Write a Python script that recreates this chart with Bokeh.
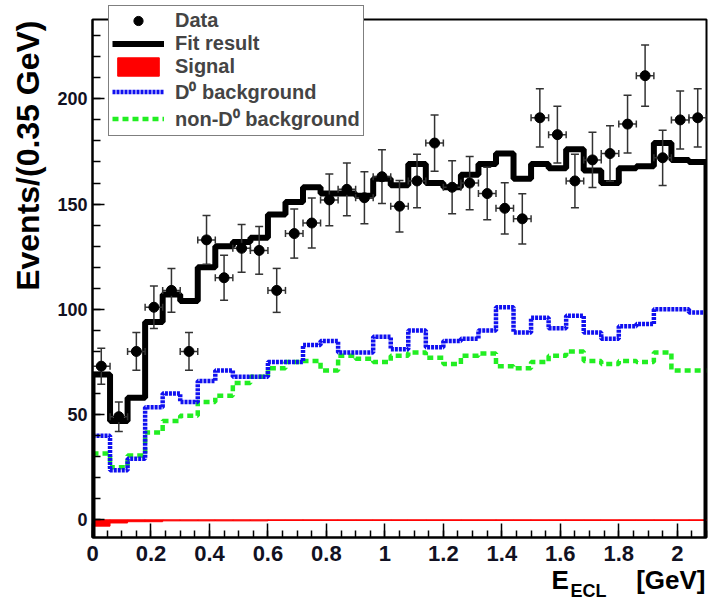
import numpy as np
from bokeh.plotting import figure
from bokeh.layouts import column
from bokeh.models import (ColumnDataSource, Whisker, TeeHead, Legend, LegendItem,
                          Label, FixedTicker, Range1d, GridBox)
from bokeh.embed import file_html
from bokeh.resources import INLINE

# ---------------- data ----------------
bin_half = 0.03
bin_centers = [0.03, 0.09, 0.15, 0.21, 0.27, 0.33, 0.39, 0.45, 0.51, 0.57,
               0.63, 0.69, 0.75, 0.81, 0.87, 0.93, 0.99, 1.05, 1.11, 1.17,
               1.23, 1.29, 1.35, 1.41, 1.47, 1.53, 1.59, 1.65, 1.71, 1.77,
               1.83, 1.89, 1.95, 2.01, 2.07]
data_counts = [73, 49, 80, 101, 109, 80, 133, 115, 129, 128,
               109, 136, 141, 152, 157, 153, 163, 149, 161, 179,
               158, 160, 155, 148, 143, 191, 183, 161, 171, 174,
               188, 211, 172, 190, 191]
fit_result = [69, 47, 58, 94, 107, 104, 120, 130, 132, 134,
              145, 151, 158, 155, 155, 154, 162, 159, 169, 160,
              158, 164, 169, 174, 162, 169, 167, 176, 166, 160,
              167, 168, 179, 171, 170]
d0_background = [40, 23.5, 29, 53.5, 60, 56, 66, 71, 68, 68,
                 75, 75, 83, 85, 79.5, 79.5, 87, 81, 90, 82,
                 85, 86, 90, 101, 89, 96, 91, 97, 89, 86,
                 92, 93, 100, 100, 98.5]
nond0_background = [31.5, 25, 30.5, 41.5, 47, 49.5, 56, 59, 65, 68,
                    72, 75, 75.5, 71, 78, 76.5, 75, 78, 79.5, 77,
                    74, 78, 79, 73, 72, 75, 78, 80, 75.5, 74,
                    75.5, 75, 79.5, 71, 71]
signal = [-3.0, -1.5, -0.9, -0.9, -0.5, -0.5, -0.5, -0.5, -0.5, -0.5,
          -0.3, -0.3, -0.3, -0.3, -0.3, -0.3, -0.3, -0.3, -0.3, -0.3,
          -0.3, -0.3, -0.3, -0.3, -0.3, -0.3, -0.3, -0.3, -0.3, -0.3,
          -0.3, -0.3, -0.3, -0.3, -0.3]

x_ticks = [0, 0.2, 0.4, 0.6, 0.8, 1, 1.2, 1.4, 1.6, 1.8, 2]
y_ticks = [0, 50, 100, 150, 200]

legend_labels = ["Data", "Fit result", "Signal",
                 "D\u2070 background", "non-D\u2070 background"]
y_title = "Events/(0.35 GeV)"
x_title_main = "E"
x_title_sub = "ECL"
x_title_unit = "[GeV]"

X_MIN, X_MAX = 0.0, 2.1
Y_MIN, Y_MAX = -8.4, 237.7

FONT = "Liberation Sans"
W, H = 709, 599
FRAME_L, FRAME_T, FRAME_W, FRAME_H = 92, 19, 614, 518

# styles
NON_D0 = dict(line_color="#22ee22", line_width=4.5, line_dash="6 4")
D0 = dict(line_color="#1010f0", line_width=4.5, line_dash="3 1")
SIG = dict(fill_color="#ff0000", line_color="#ff0000", line_width=1)
FIT = dict(line_color="black", line_width=6)
PTS = dict(size=10, color="black")

lo_edges = [c - bin_half for c in bin_centers]
hi_edges = [c + bin_half for c in bin_centers]


def step_xy(vals, drop_to=None):
    xs, ys = [], []
    if drop_to is not None:
        xs.append(lo_edges[0]); ys.append(drop_to)
    for lo, hi, v in zip(lo_edges, hi_edges, vals):
        xs += [lo, hi]
        ys += [v, v]
    if drop_to is not None:
        xs.append(hi_edges[-1]); ys.append(drop_to)
    return xs, ys


gx, gy = step_xy(nond0_background)
bx, by = step_xy(d0_background)
fx, fy = step_xy(fit_result, drop_to=Y_MIN)
sig_src = ColumnDataSource(dict(left=lo_edges, right=hi_edges,
                                top=[0] * len(signal), bottom=signal))
err = np.sqrt(np.array(data_counts, dtype=float))
dsrc = ColumnDataSource(dict(
    x=bin_centers, y=data_counts,
    lower=list(np.array(data_counts) - err), upper=list(np.array(data_counts) + err),
    xl=lo_edges, xr=hi_edges))

# ---------------- main figure ----------------
p = figure(frame_width=FRAME_W, frame_height=FRAME_H,
           x_range=Range1d(X_MIN, X_MAX), y_range=Range1d(Y_MIN, Y_MAX),
           output_backend="svg", toolbar_location=None,
           min_border_left=FRAME_L, min_border_right=W - FRAME_L - FRAME_W,
           min_border_top=FRAME_T, min_border_bottom=H - FRAME_T - FRAME_H)
p.grid.visible = False
p.outline_line_color = "black"
p.outline_line_width = 2
p.background_fill_color = "white"
p.border_fill_color = "white"

p.line(gx, gy, **NON_D0)
p.line(bx, by, **D0)
p.quad(left="left", right="right", top="top", bottom="bottom", source=sig_src, **SIG)
p.line(fx, fy, **FIT)

wv = Whisker(source=dsrc, base="x", lower="lower", upper="upper",
             line_color="#333333", line_width=1.5,
             lower_head=TeeHead(size=8, line_color="#333333", line_width=1.5),
             upper_head=TeeHead(size=8, line_color="#333333", line_width=1.5))
wh = Whisker(source=dsrc, base="y", lower="xl", upper="xr", dimension="width",
             line_color="#333333", line_width=1.5,
             lower_head=TeeHead(size=7, line_color="#333333", line_width=1.5),
             upper_head=TeeHead(size=7, line_color="#333333", line_width=1.5))
wv.level = "glyph"
wh.level = "glyph"
p.add_layout(wv)
p.add_layout(wh)
p.scatter("x", "y", source=dsrc, level="annotation", **PTS)

# axes
p.xaxis.ticker = FixedTicker(ticks=x_ticks,
                             minor_ticks=[round(v, 3) for v in np.arange(0, 2.1001, 0.05)])
p.xaxis.major_label_overrides = {t: ("%g" % t) for t in x_ticks}
p.yaxis.ticker = FixedTicker(ticks=y_ticks, minor_ticks=list(range(0, 240, 10)))
p.yaxis.major_label_overrides = {t: str(t) for t in y_ticks}

for ax in (p.xaxis[0], p.yaxis[0]):
    ax.axis_line_width = 2
    ax.axis_line_color = "black"
    ax.major_tick_out = 0
    ax.minor_tick_out = 0
    ax.major_tick_line_width = 1.5
    ax.minor_tick_line_width = 1.5
    ax.major_label_text_font = FONT
    ax.major_label_text_font_style = "bold"
    ax.major_label_text_color = "#111122"

p.xaxis.major_tick_in = 14
p.xaxis.minor_tick_in = 7
p.xaxis.major_label_text_font_size = "22px"
p.xaxis.major_label_standoff = 8
p.yaxis.major_tick_in = 12
p.yaxis.minor_tick_in = 8
p.yaxis.major_label_text_font_size = "18px"
p.yaxis.major_label_standoff = 5

# ---------------- overlay (titles + legend, page pixel coordinates) ----------------
ov = figure(width=W, height=H, x_range=Range1d(0, W), y_range=Range1d(0, H),
            x_axis_type=None, y_axis_type=None, output_backend="svg",
            toolbar_location=None, min_border=0)
ov.grid.visible = False
ov.outline_line_color = None
ov.background_fill_alpha = 0
ov.border_fill_alpha = 0

# legend renderers (hidden; they only provide the legend glyph styles)
l_pts = ov.scatter("x", "y", source=dsrc, visible=False, **PTS)
l_fit = ov.line(fx, fy, visible=False, **FIT)
l_sig = ov.quad(left="left", right="right", top="top", bottom="bottom",
                source=sig_src, visible=False, **SIG)
l_d0 = ov.line(bx, by, visible=False, **D0)
l_nd0 = ov.line(gx, gy, visible=False, **NON_D0)

LEG_H = 128.5
legend = Legend(items=[LegendItem(label=lab, renderers=[r]) for lab, r in
                       zip(legend_labels, [l_pts, l_fit, l_sig, l_d0, l_nd0])],
                location=(108, H - 7 - LEG_H))
legend.label_text_font = FONT
legend.label_text_font_style = "bold"
legend.label_text_font_size = "20px"
legend.label_height = 23
legend.glyph_height = 23
legend.glyph_width = 52
legend.label_standoff = 11
legend.padding = 3
legend.spacing = 0
legend.margin = 0
legend.border_line_color = "black"
legend.border_line_width = 1.5
legend.background_fill_color = "white"
legend.background_fill_alpha = 1.0
legend.inactive_fill_alpha = 0.0
ov.add_layout(legend)

# text anchors are the vertical middles of the text boxes
ov.add_layout(Label(x=27, y=H - 20, text=y_title, angle=np.pi / 2,
                    text_font=FONT, text_font_style="bold", text_font_size="32px",
                    text_align="right", text_baseline="middle", text_color="black"))
ov.add_layout(Label(x=551, y=H - 579, text=x_title_main,
                    text_font=FONT, text_font_style="bold", text_font_size="26px",
                    text_align="left", text_baseline="middle", text_color="black"))
ov.add_layout(Label(x=570, y=H - 590, text=x_title_sub,
                    text_font=FONT, text_font_style="bold", text_font_size="18px",
                    text_align="left", text_baseline="middle", text_color="black"))
ov.add_layout(Label(x=705, y=H - 579, text=x_title_unit,
                    text_font=FONT, text_font_style="bold", text_font_size="26px",
                    text_align="right", text_baseline="middle", text_color="black"))

# overlay wrapped in a column so that its frame is not aligned to the main frame
layout = GridBox(children=[(column(p), 0, 0), (column(ov), 0, 0)], spacing=0)

open("out.html", "w").write(file_html(layout, INLINE))
